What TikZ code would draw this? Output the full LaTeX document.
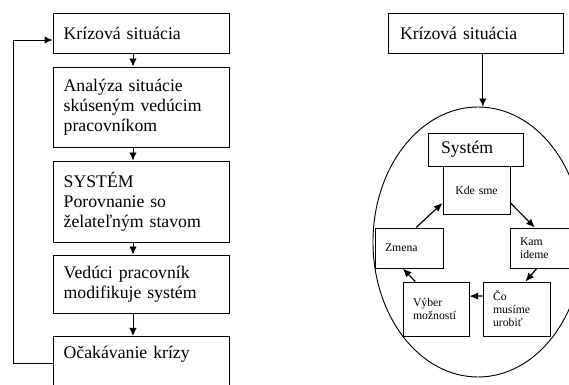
\documentclass[tikz,border=0pt]{standalone}
\usepackage{fontspec}
\setmainfont{Liberation Serif}
\usetikzlibrary{arrows.meta,shapes.geometric}

\begin{document}
\begin{tikzpicture}
		[x=0.75pt, y=-0.75pt, line width=0.7pt,
		stepbox/.style	= {rectangle,draw,align=left,inner xsep=8pt,inner ysep=4pt,text width=116pt,font=\fontsize{13.3}{15}\selectfont},
		headbox/.style	= {rectangle,draw,align=left,inner xsep=9pt,inner ysep=3pt,font=\fontsize{13.3}{15}\selectfont},
		cyclebox/.style	= {rectangle,draw,align=left,inner xsep=7.5pt,inner ysep=2pt,font=\fontsize{8.8}{9.75}\selectfont},
		paths/.style	= {-{Latex[length=6pt,width=5.5pt]}},
		cpaths/.style	= {-{Latex[length=6.5pt,width=5.5pt]}, line width=0.9pt}]
		
		\clip (0,0) rectangle (569,385);
		
		\node at (141, 33)		[stepbox, minimum height=30pt]		(b1)	{Krízová situácia};
		\node at (141, 107)		[stepbox, minimum height=60pt]		(b2)	{Analýza situácie\\skúseným vedúcim\\pracovníkom};
		\node at (141, 201.5)	[stepbox, minimum height=60.75pt]	(b3)	{SYSTÉM\\Porovnanie so\\želateľným stavom};
		\node at (141, 284)		[stepbox, minimum height=43.5pt]	(b4)	{Vedúci pracovník\\modifikuje systém};
		\node at (141, 336)		[stepbox, anchor=north, inner ysep=6.5pt, text height=10pt, text depth=45pt]	(b5)	{Očakávanie krízy};
		
		\node at (475.5, 33)	[headbox, text width=113.25pt, minimum height=30pt]	(r1)	{Krízová situácia};
		\node at (478, 242)		[ellipse, draw, inner sep=0pt, minimum width=157.5pt, minimum height=202.5pt]	(sys)	{};
		\node at (475.5, 149.5)	[headbox, inner xsep=9.75pt, text width=51.75pt, minimum height=24.75pt]	(sy)	{Systém};
		
		\node at (476.5, 190)	[cyclebox, align=center, text width=35.25pt, minimum height=36pt]	(kde)	{Kde sme};
		\node at (409, 248)		[cyclebox, text width=36pt, minimum height=30pt]		(zm)	{Zmena\\[3pt]};
		\node at (543.5, 248)	[cyclebox, text width=35.25pt, minimum height=30pt]		(kam)	{Kam\\ideme};
		\node at (436, 309)		[cyclebox, text width=34.5pt, minimum height=40.5pt]	(vyb)	{Výber\\možností\\[3pt]};
		\node at (516.5, 309)	[cyclebox, text width=35.25pt, minimum height=40.5pt]	(co)	{Čo\\musíme\\urobiť};
		
		\draw [paths] ([xshift=-6pt]b1.south) -- ([xshift=-6pt]b2.north);
		\draw [paths] ([xshift=-6pt]b2.south) -- ([xshift=-6pt]b3.north);
		\draw [paths] ([xshift=-6pt]b3.south) -- ([xshift=-6pt]b4.north);
		\draw [paths] ([xshift=-6pt]b4.south) -- ([xshift=-6pt]b5.north);
		
		\coordinate (fbbot) at (13, 363);
		\coordinate (fbtop) at (13, 40);
		\draw [paths] (b5.west |- fbbot) -- (fbbot) -- (fbtop) -- (b1.west |- fbtop);
		
		\draw [paths] ([xshift=5.5pt]r1.south) -- ([xshift=5.5pt]r1.south |- sys.north);
		
		\draw [cpaths] (zm.71) -- (kde.201);
		\draw [cpaths] (kde.339) -- (kam.113);
		\draw [cpaths] (kam.252) -- (co.72);
		\draw [cpaths] (co.159) -- (vyb.21);
		\draw [cpaths] (vyb.127) -- (zm.253);
		
		\end{tikzpicture}
\end{document}
